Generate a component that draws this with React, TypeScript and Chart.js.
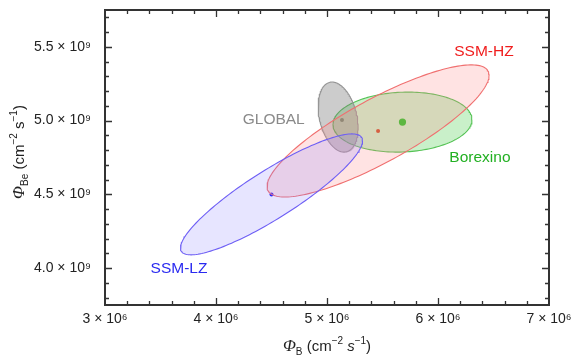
import React, { useEffect, useRef } from 'react';
import { Chart, registerables } from 'chart.js';

Chart.register(...registerables);

// ---- data ----
const regionNames = ['SSM-LZ', 'SSM-HZ', 'GLOBAL', 'Borexino'];
// 1σ-contour centres, widths and correlations (Φ_B in cm^-2 s^-1, Φ_Be in cm^-2 s^-1)
const centerB = [4.5e6, 5.46e6, 5.1e6, 5.68e6];
const centerBe = [4.5e9, 4.93e9, 5.024e9, 4.99e9];
const sigmaB = [0.82e6, 1.0e6, 0.18e6, 0.626e6];
const sigmaBe = [0.41e9, 0.448e9, 0.2375e9, 0.2035e9];
const corr = [0.885, 0.84, -0.3, 0.08];
// best-fit / model points
const bestB = [4.5e6, 5.46e6, 5.135e6, 5.68e6];
const bestBe = [4.5e9, 4.93e9, 5.004e9, 4.99e9];

const xTickValues = [3e6, 4e6, 5e6, 6e6, 7e6];
const xTickLabels = ['3 × 10⁶', '4 × 10⁶', '5 × 10⁶', '6 × 10⁶', '7 × 10⁶'];
const yTickValues = [4.0e9, 4.5e9, 5.0e9, 5.5e9];
const yTickLabels = ['4.0 × 10⁹', '4.5 × 10⁹', '5.0 × 10⁹', '5.5 × 10⁹'];

// ---- styles ----
const FONT = '"Liberation Sans", Arial, Helvetica, sans-serif';
const borderColors = ['rgb(110,95,245)', 'rgb(240,112,112)', 'rgb(150,150,150)', 'rgb(85,195,85)'];
const fillColors = ['rgba(135,125,255,0.2)', 'rgba(255,140,140,0.24)', 'rgba(120,120,120,0.38)', 'rgba(90,210,90,0.33)'];
const dotColors = ['#1414ff', '#ff1414', '#707070', '#14c014'];
const dotRadius = [2, 2, 2, 3.6];
const labelColors = ['#2a2af0', '#f01c1c', '#8a8a8a', '#22b022'];
// label anchors (data coordinates)
const labelAnchors = [
  { x: 3.667e6, y: 3.993e9 },
  { x: 6.414e6, y: 5.465e9 },
  { x: 4.52e6, y: 5.004e9 },
  { x: 6.378e6, y: 4.746e9 },
];

function ellipsePoints(i: number) {
  const pts: { x: number; y: number }[] = [];
  const n = 180;
  const r = corr[i];
  const q = Math.sqrt(1 - r * r);
  for (let k = 0; k <= n; k++) {
    const t = (2 * Math.PI * k) / n;
    pts.push({
      x: centerB[i] + sigmaB[i] * Math.cos(t),
      y: centerBe[i] + sigmaBe[i] * (r * Math.cos(t) + q * Math.sin(t)),
    });
  }
  return pts;
}

type Seg = { t: string; f: string; dy: number };
function drawRich(ctx: CanvasRenderingContext2D, segs: Seg[], cx: number, cy: number) {
  let w = 0;
  for (const s of segs) {
    ctx.font = s.f;
    w += ctx.measureText(s.t).width;
  }
  let xx = cx - w / 2;
  for (const s of segs) {
    ctx.font = s.f;
    ctx.fillText(s.t, xx, cy + s.dy);
    xx += ctx.measureText(s.t).width;
  }
}

const decorPlugin = {
  id: 'decor',
  afterDatasetsDraw(chart: any) {
    const { ctx, chartArea: a, scales } = chart;
    const xs = scales.x;
    const ys = scales.y;
    ctx.save();

    // region labels
    ctx.font = `15.5px ${FONT}`;
    ctx.textAlign = 'center';
    ctx.textBaseline = 'middle';
    regionNames.forEach((name, i) => {
      ctx.fillStyle = labelColors[i];
      ctx.fillText(name, xs.getPixelForValue(labelAnchors[i].x), ys.getPixelForValue(labelAnchors[i].y));
    });

    // frame
    ctx.strokeStyle = '#333';
    ctx.lineWidth = 2;
    ctx.strokeRect(a.left, a.top, a.right - a.left, a.bottom - a.top);

    // inward ticks
    ctx.lineWidth = 1.3;
    ctx.beginPath();
    for (let k = 16; k <= 34; k++) {
      const major = k % 5 === 0;
      const len = major ? 7 : 4;
      const px = Math.round(xs.getPixelForValue(k * 0.2e6)) + 0.5;
      ctx.moveTo(px, a.bottom);
      ctx.lineTo(px, a.bottom - len);
      ctx.moveTo(px, a.top);
      ctx.lineTo(px, a.top + len);
    }
    for (let k = 38; k <= 57; k++) {
      const major = k % 5 === 0;
      const len = major ? 7 : 4;
      const py = Math.round(ys.getPixelForValue(k * 0.1e9)) + 0.5;
      ctx.moveTo(a.left, py);
      ctx.lineTo(a.left + len, py);
      ctx.moveTo(a.right, py);
      ctx.lineTo(a.right - len, py);
    }
    ctx.stroke();

    // axis titles
    ctx.fillStyle = '#222';
    ctx.textAlign = 'left';
    ctx.textBaseline = 'alphabetic';
    const big = `15px ${FONT}`;
    const small = `10px ${FONT}`;
    const phi = 'italic 17px "Liberation Serif", "DejaVu Serif", serif';
    drawRich(
      ctx,
      [
        { t: 'Φ', f: phi, dy: 0 },
        { t: 'B', f: small, dy: 4 },
        { t: ' (cm', f: big, dy: 0 },
        { t: '−2', f: small, dy: -7 },
        { t: ' ', f: big, dy: 0 },
        { t: 's', f: `italic 15px ${FONT}`, dy: 0 },
        { t: '−1', f: small, dy: -7 },
        { t: ')', f: big, dy: 0 },
      ],
      (a.left + a.right) / 2,
      351
    );
    ctx.save();
    ctx.translate(24, 152);
    ctx.rotate(-Math.PI / 2);
    drawRich(
      ctx,
      [
        { t: 'Φ', f: phi, dy: 0 },
        { t: 'Be', f: small, dy: 4 },
        { t: ' (cm', f: big, dy: 0 },
        { t: '−2', f: small, dy: -7 },
        { t: ' s', f: big, dy: 0 },
        { t: '−1', f: small, dy: -7 },
        { t: ')', f: big, dy: 0 },
      ],
      0,
      0
    );
    ctx.restore();
    ctx.restore();
  },
};

export default function App() {
  const ref = useRef<HTMLCanvasElement | null>(null);

  useEffect(() => {
    if (!ref.current) return;
    const ellipseSets = regionNames.map((name, i) => ({
      label: name,
      data: ellipsePoints(i),
      showLine: true,
      fill: 'shape',
      borderColor: borderColors[i],
      backgroundColor: fillColors[i],
      borderWidth: 1.1,
      pointRadius: 0,
      tension: 0,
    }));
    const pointSet = {
      label: 'best fit',
      data: bestB.map((b, i) => ({ x: b, y: bestBe[i] })),
      showLine: false,
      pointRadius: dotRadius,
      pointBackgroundColor: dotColors,
      pointBorderWidth: 0,
      pointBorderColor: dotColors,
    };
    const chart = new Chart(ref.current, {
      type: 'scatter',
      data: { datasets: [...ellipseSets, pointSet] as any },
      options: {
        animation: false,
        responsive: false,
        devicePixelRatio: 1,
        layout: { padding: { left: 0, right: 32, top: 10, bottom: 0 } },
        plugins: { legend: { display: false }, tooltip: { enabled: false } },
        scales: {
          x: {
            type: 'linear',
            min: 3e6,
            max: 7e6,
            grid: { display: false, drawTicks: false },
            border: { display: false },
            afterBuildTicks: (s: any) => {
              s.ticks = xTickValues.map((v) => ({ value: v }));
            },
            afterFit: (s: any) => {
              s.height = 59;
              s.paddingLeft = 0;
              s.paddingRight = 0;
            },
            ticks: {
              autoSkip: false,
              maxRotation: 0,
              padding: 6,
              color: '#222',
              font: { family: FONT, size: 14 },
              callback: (v: any) => {
                const i = xTickValues.indexOf(Number(v));
                return i >= 0 ? xTickLabels[i] : '';
              },
            },
          },
          y: {
            type: 'linear',
            min: 3.75e9,
            max: 5.75e9,
            grid: { display: false, drawTicks: false },
            border: { display: false },
            afterBuildTicks: (s: any) => {
              s.ticks = yTickValues.map((v) => ({ value: v }));
            },
            afterFit: (s: any) => {
              s.width = 105;
              s.paddingTop = 0;
              s.paddingBottom = 0;
            },
            ticks: {
              autoSkip: false,
              padding: 14,
              color: '#222',
              font: { family: FONT, size: 14 },
              callback: (v: any) => {
                const i = yTickValues.indexOf(Number(v));
                return i >= 0 ? yTickLabels[i] : '';
              },
            },
          },
        },
      },
      plugins: [decorPlugin],
    });
    return () => chart.destroy();
  }, []);

  return (
    <div style={{ position: 'fixed', left: 0, top: 0, width: 581, height: 364, background: '#fff' }}>
      <canvas ref={ref} width={581} height={364} />
    </div>
  );
}
